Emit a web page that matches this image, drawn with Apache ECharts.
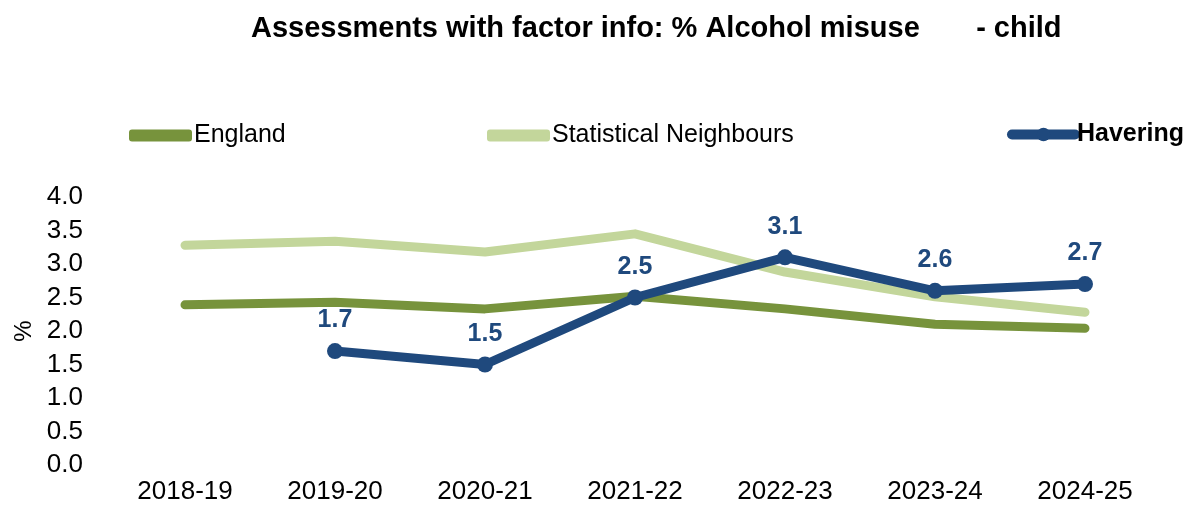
<!DOCTYPE html>
<html>
<head>
<meta charset="utf-8">
<script src="https://cdn.jsdelivr.net/npm/echarts@6/dist/echarts.min.js"></script>
<style>
  html, body { margin: 0; padding: 0; background: #ffffff; }
  #chart { width: 1191px; height: 510px; }
</style>
</head>
<body>
<div id="chart"></div>
<script>
// Financial years on the x axis
var years = ['2018-19', '2019-20', '2020-21', '2021-22', '2022-23', '2023-24', '2024-25'];

// % of assessments with alcohol misuse (child) recorded as a factor
var england = [2.39, 2.43, 2.33, 2.52, 2.33, 2.10, 2.04];
var statNeighbours = [3.28, 3.34, 3.18, 3.45, 2.88, 2.51, 2.28];
var havering = [null, 1.7, 1.5, 2.5, 3.1, 2.6, 2.7];

var FONT = '"Liberation Sans", Arial, sans-serif';
var C_ENG = '#77933C';
var C_SN = '#C3D69B';
var C_HAV = '#1F497D';

var chart = echarts.init(document.getElementById('chart'), null, { renderer: 'canvas' });

function legendFor(item, left, bold, h, top) {
  return {
    data: [item],
    left: left,
    top: top,
    itemWidth: 63,
    itemHeight: h,
    lineStyle: { width: 10, cap: 'round' },
    textStyle: { fontFamily: FONT, fontSize: 25, color: '#000', fontWeight: bold ? 'bold' : 'normal', padding: [0, 0, 0, -3] }
  };
}

chart.setOption({
  animation: false,
  title: {
    text: 'Assessments with factor info: % Alcohol misuse       - child',
    left: 246,
    top: 9,
    textStyle: { fontFamily: FONT, fontSize: 29, fontWeight: 'bold', color: '#000' }
  },
  legend: [
    legendFor({ name: 'England', icon: 'roundRect' }, 124, false, 12, 118),
    legendFor({ name: 'Statistical Neighbours', icon: 'roundRect' }, 482, false, 12, 118),
    legendFor({ name: 'Havering' }, 1002, true, 17, 117)
  ],
  grid: { left: 110, right: 31, top: 197, bottom: 45, containLabel: false },
  xAxis: {
    type: 'category',
    data: years,
    boundaryGap: true,
    axisLine: { show: false },
    axisTick: { show: false },
    axisLabel: { fontFamily: FONT, fontSize: 26, color: '#000', margin: 14 }
  },
  yAxis: {
    type: 'value',
    min: 0,
    max: 4,
    interval: 0.5,
    name: '%',
    nameLocation: 'middle',
    nameGap: 74,
    nameRotate: 90,
    nameTextStyle: { fontFamily: FONT, fontSize: 24, color: '#000' },
    axisLine: { show: false },
    axisTick: { show: false },
    splitLine: { show: false },
    axisLabel: {
      fontFamily: FONT, fontSize: 26, color: '#000', margin: 27,
      formatter: function (v) { return v.toFixed(1); }
    }
  },
  series: [
    {
      name: 'England',
      type: 'line',
      data: england,
      symbol: 'none',
      itemStyle: { color: C_ENG },
      lineStyle: { color: C_ENG, width: 9, cap: 'round', join: 'round' },
      z: 2
    },
    {
      name: 'Statistical Neighbours',
      type: 'line',
      data: statNeighbours,
      symbol: 'none',
      itemStyle: { color: C_SN },
      lineStyle: { color: C_SN, width: 9, cap: 'round', join: 'round' },
      z: 1
    },
    {
      name: 'Havering',
      type: 'line',
      data: havering,
      symbol: 'circle',
      symbolSize: 16,
      itemStyle: { color: C_HAV },
      lineStyle: { color: C_HAV, width: 9, cap: 'round', join: 'round' },
      label: {
        show: true,
        position: 'top',
        distance: 10,
        fontFamily: FONT,
        fontSize: 25,
        fontWeight: 'bold',
        color: C_HAV,
        formatter: function (p) { return p.value.toFixed(1); }
      },
      z: 3
    }
  ]
});
</script>
</body>
</html>
